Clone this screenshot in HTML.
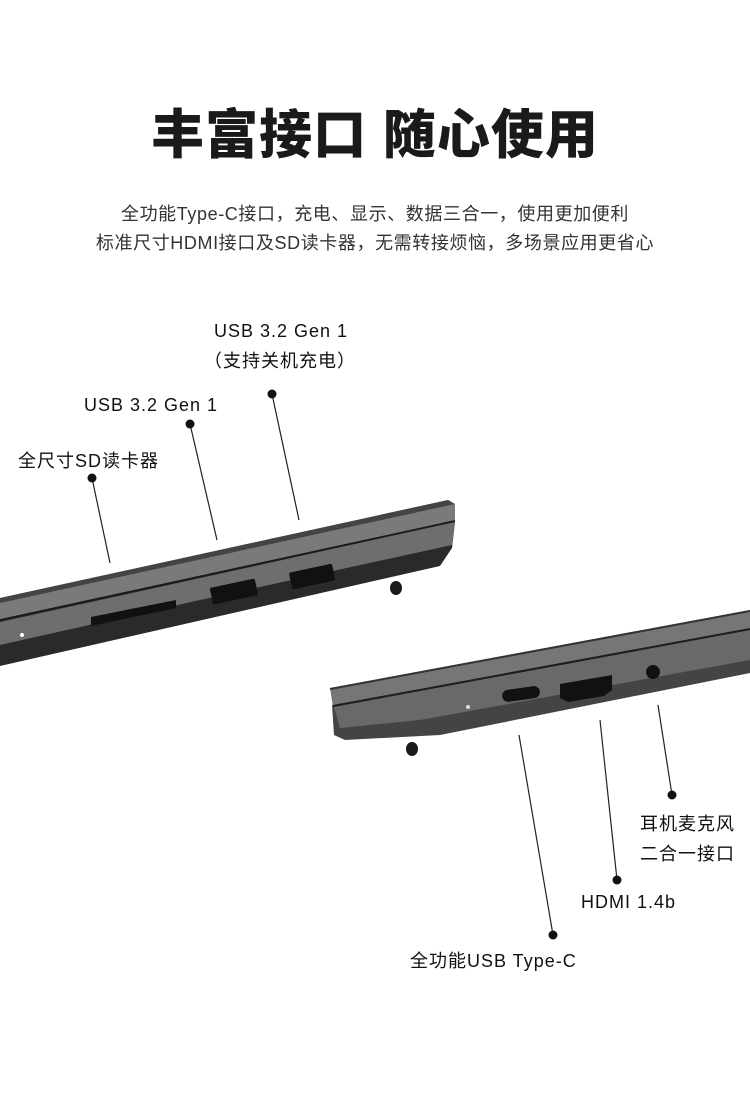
<!DOCTYPE html>
<html><head><meta charset="utf-8"><style>
body{margin:0;width:750px;height:1110px;background:#fff;position:relative;overflow:hidden;font-family:"Liberation Sans","Noto Sans CJK SC",sans-serif;color:#222}
.t{position:absolute;white-space:nowrap}
h1{position:absolute;top:103px;left:0;width:750px;text-align:center;margin:0;font-size:53px;font-weight:900;color:#1a1a1a;letter-spacing:1px;line-height:66px}
.s{left:0;width:750px;text-align:center;font-size:18px;letter-spacing:0.6px;color:#333}
.l{font-size:18px;letter-spacing:1px;color:#111}
</style></head><body>
<h1>丰富接口 随心使用</h1>
<div class="t s" style="top:200px">全功能Type-C接口，充电、显示、数据三合一，使用更加便利</div>
<div class="t s" style="top:229px">标准尺寸HDMI接口及SD读卡器，无需转接烦恼，多场景应用更省心</div>
<div class="t l" style="left:214px;top:321px">USB 3.2 Gen 1</div>
<div class="t l" style="left:204px;top:347px">（支持关机充电）</div>
<div class="t l" style="left:84px;top:395px">USB 3.2 Gen 1</div>
<div class="t l" style="left:18px;top:447px">全尺寸SD读卡器</div>
<div class="t l" style="left:640px;top:810px">耳机麦克风</div>
<div class="t l" style="left:640px;top:840px">二合一接口</div>
<div class="t l" style="left:581px;top:892px">HDMI 1.4b</div>
<div class="t l" style="left:410px;top:947px">全功能USB Type-C</div>
<svg width="750" height="1110" style="position:absolute;left:0;top:0">
<g stroke="#222" stroke-width="1.2">
<line x1="92" y1="478" x2="110" y2="563"/><line x1="190" y1="424" x2="217" y2="540"/><line x1="272" y1="394" x2="299" y2="520"/>
<line x1="519" y1="735" x2="553" y2="935"/><line x1="600" y1="720" x2="617" y2="880"/><line x1="658" y1="705" x2="672" y2="795"/>
</g>
<g fill="#111"><circle cx="92" cy="478" r="4.5"/><circle cx="190" cy="424" r="4.5"/><circle cx="272" cy="394" r="4.5"/><circle cx="553" cy="935" r="4.5"/><circle cx="617" cy="880" r="4.5"/><circle cx="672" cy="795" r="4.5"/></g>
<polygon points="0,620 455,522 452,548 440,566 0,666" fill="#2a2a2c"/>
<polygon points="0,622 455,522 452,545 200,600 0,645" fill="#6e6e70"/>
<polygon points="0,598 448,500 455,504 455,520 0,619" fill="#7a7a7c"/>
<polygon points="0,598 448,500 455,504 0,603" fill="#444"/>
<line x1="0" y1="620" x2="455" y2="521" stroke="#1a1a1a" stroke-width="2"/>
<ellipse cx="396" cy="588" rx="6" ry="7" fill="#1a1a1a"/>
<polygon points="91,617 176,600 176,608 91,626" fill="#111"/>
<rect x="211" y="583" width="46" height="17" rx="2" fill="#111" transform="rotate(-12 234 592)"/>
<rect x="290" y="568" width="44" height="17" rx="2" fill="#111" transform="rotate(-12 312 576)"/>
<circle cx="22" cy="635" r="2" fill="#fff"/>
<polygon points="332,705 750,628 750,673 440,735 345,740 334,735" fill="#444446"/>
<polygon points="334,707 750,630 750,660 420,720 340,728" fill="#69696b"/>
<polygon points="330,688 750,610 750,629 333,707" fill="#767678"/>
<line x1="333" y1="706" x2="750" y2="629" stroke="#1e1e1e" stroke-width="2"/>
<line x1="330" y1="689" x2="750" y2="611" stroke="#333" stroke-width="2"/>
<ellipse cx="412" cy="749" rx="6" ry="7" fill="#1a1a1a"/>
<rect x="502" y="688" width="38" height="12" rx="6" fill="#111" transform="rotate(-8 521 694)"/>
<polygon points="560,684 612,675 612,690 604,696 568,702 560,698" fill="#111"/>
<circle cx="653" cy="672" r="7" fill="#111"/>
<circle cx="468" cy="707" r="2" fill="#ddd"/>
</svg>
</body></html>
